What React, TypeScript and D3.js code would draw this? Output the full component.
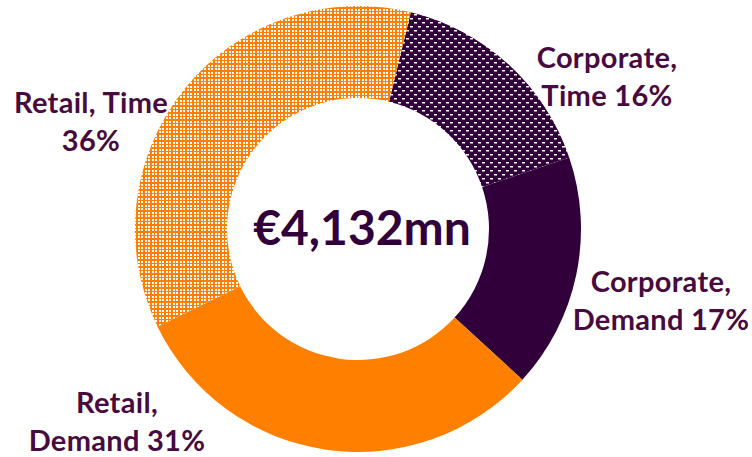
import React from "react";
import * as d3 from "d3";

// segments, clockwise starting just right of 12 o'clock
const categories = ["Corporate, Time", "Corporate, Demand", "Retail, Demand", "Retail, Time"];
const shares = [16, 17, 31, 36];
const labelLines = [
  ["Corporate,", "Time 16%"],
  ["Corporate,", "Demand 17%"],
  ["Retail,", "Demand 31%"],
  ["Retail, Time", "36%"],
];
const totalLabel = "€4,132mn";

const W = 752, H = 457;
const cx = 358, cy = 229;
const outerR = 223, innerR = 131;
const startAngle = (13.7 * Math.PI) / 180;

const ORANGE = "#ff8000";
const PURPLE = "#31003a";
const TEXT = "#470b40";
const fills = ["url(#dashPurple)", PURPLE, ORANGE, "url(#dotOrange)"];

// label anchor (centre x, first baseline y)
const labelPos: [number, number][] = [
  [607, 68],
  [661, 292],
  [117, 413],
  [91, 113],
];

export default function App() {
  const pie = d3
    .pie<number>()
    .sort(null)
    .value((d) => d)
    .startAngle(startAngle)
    .endAngle(startAngle + 2 * Math.PI);
  const arc = d3.arc<d3.PieArcDatum<number>>().innerRadius(innerR).outerRadius(outerR);
  const arcs = pie(shares);

  return (
    <svg width={W} height={H} style={{ position: "absolute", left: 0, top: 0 }}>
      <defs>
        <pattern id="dotOrange" width={7} height={7} patternUnits="userSpaceOnUse">
          <rect width={7} height={7} fill={ORANGE} />
          <rect x={0} y={0} width={2} height={2} fill="#fff" />
          <rect x={4} y={0} width={2} height={2} fill="#fff" />
          <rect x={0} y={4} width={2} height={2} fill="#fff" />
          <rect x={4} y={4} width={2} height={2} fill="#fff" />
        </pattern>
        <pattern id="dashPurple" width={8} height={8} patternUnits="userSpaceOnUse">
          <rect width={8} height={8} fill={PURPLE} />
          <rect x={0} y={1} width={3} height={1.5} fill="#fff" />
          <rect x={4} y={5} width={3} height={1.5} fill="#fff" />
        </pattern>
      </defs>
      <rect width={W} height={H} fill="#fff" />
      <g transform={`translate(${cx},${cy})`}>
        {arcs.map((a, i) => (
          <path key={categories[i]} d={arc(a) || ""} fill={fills[i]} />
        ))}
      </g>
      <text
        x={cx + 4}
        y={245}
        textAnchor="middle"
        fontFamily="Lato, sans-serif"
        fontWeight={700}
        fontSize={48}
        fill={PURPLE}
      >
        {totalLabel}
      </text>
      {labelLines.map((lines, i) => (
        <text
          key={i}
          textAnchor="middle"
          fontFamily="Lato, sans-serif"
          fontWeight={700}
          fontSize={29}
          letterSpacing={0.3}
          fill={TEXT}
        >
          {lines.map((l, j) => (
            <tspan key={j} x={labelPos[i][0]} y={labelPos[i][1] + j * 38}>
              {l}
            </tspan>
          ))}
        </text>
      ))}
    </svg>
  );
}
